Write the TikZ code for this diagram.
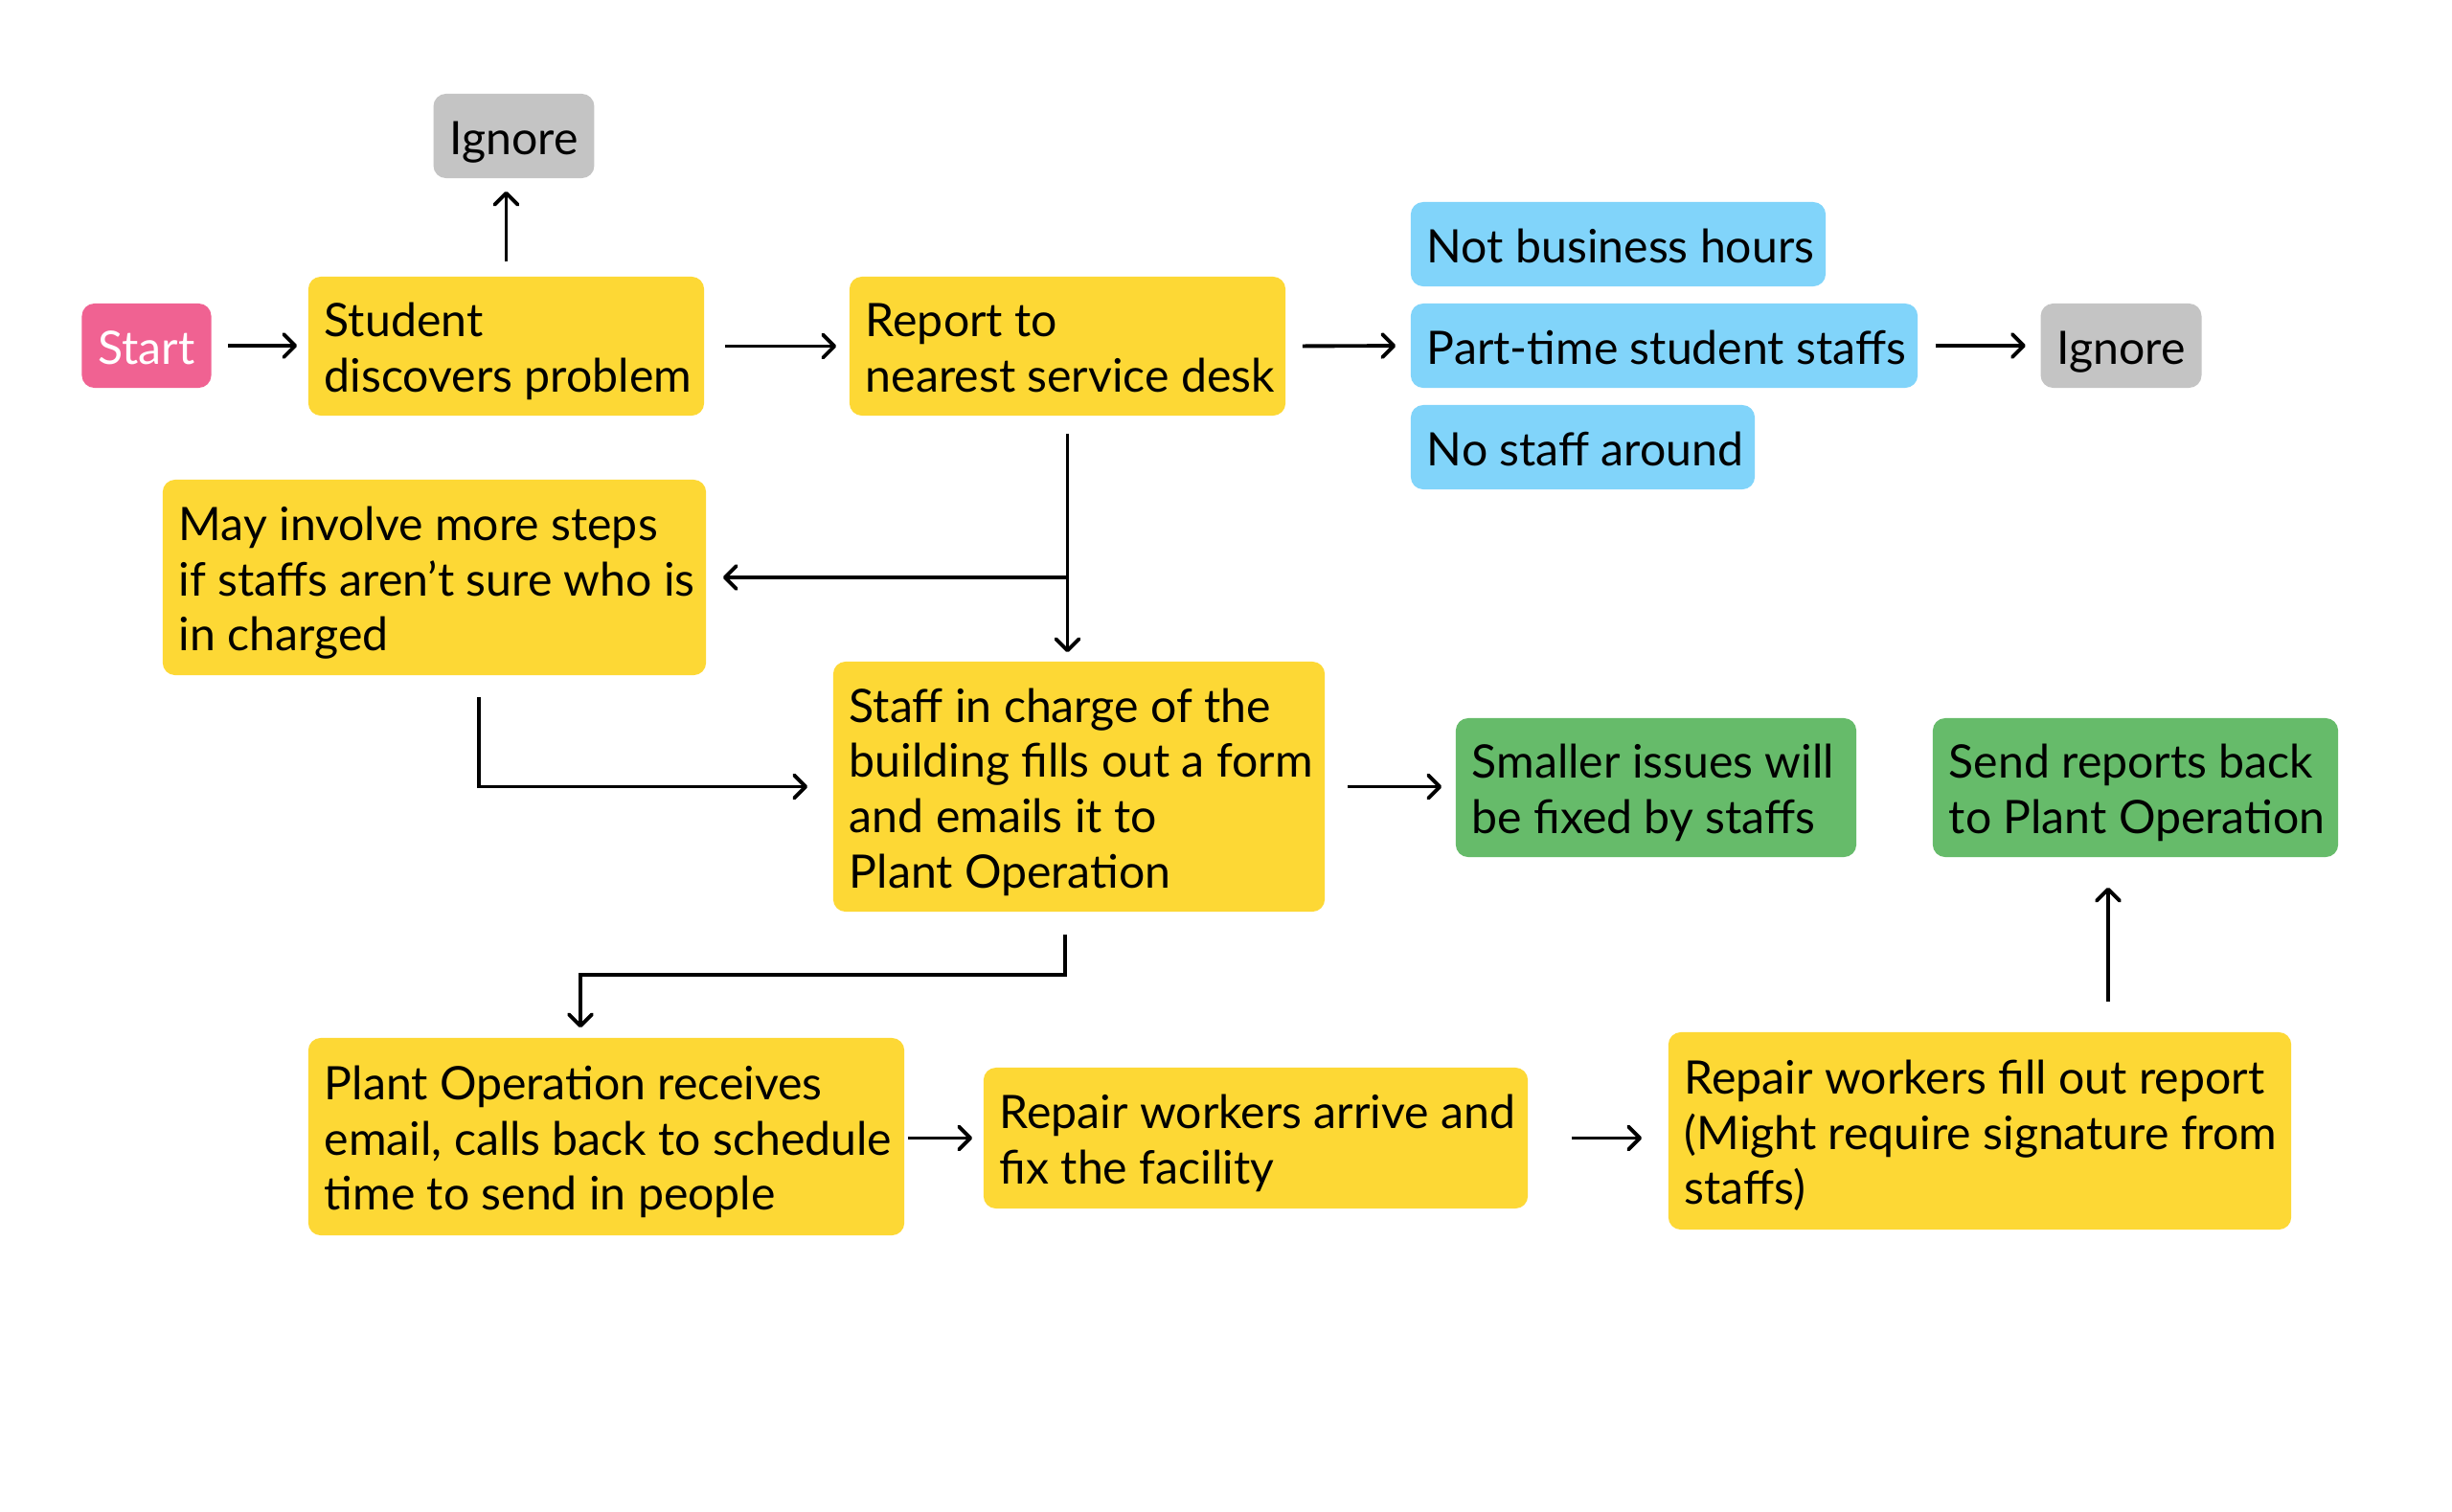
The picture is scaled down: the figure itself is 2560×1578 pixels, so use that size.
\documentclass[tikz,border=0pt]{standalone}
\usepackage{fontspec}
\setmainfont{Lato}
\usetikzlibrary{arrows.meta}
\definecolor{cyellow}{RGB}{253,216,53}
\definecolor{cpink}{RGB}{240,98,146}
\definecolor{cblue}{RGB}{129,212,250}
\definecolor{cgreen}{RGB}{102,187,106}
\definecolor{cgray}{RGB}{196,196,196}
\newcommand{\lowerit}[1]{\raisebox{-2.2pt}[\height][\depth]{#1}}
\newcommand{\boxlines}[2]{\lowerit{\makebox[#1][l]{\begin{tabular}{@{}l@{}}#2\end{tabular}}}}
\newcommand{\centerlines}[1]{\lowerit{\begin{tabular}{@{}c@{}}#1\end{tabular}}}
\begin{document}
\begin{tikzpicture}[x=0.01cm,y=-0.01cm,
  box/.style={rounded corners=0.13cm, inner ysep=0pt, inner xsep=0.17cm,
    font=\fontsize{13.7}{16.4}\selectfont, text=black},
  ybox/.style={box, fill=cyellow},
  bbox/.style={box, fill=cblue},
  gbox/.style={box, fill=cgreen},
  graybox/.style={box, fill=cgray},
  arr/.style={-{Straight Barb[length=0.12cm,width=0.24cm,line width=1.1pt,round]}, line width=1.1pt}]
\useasboundingbox[fill=white] (0,0) rectangle (2560,1578);

% nodes (center positions in px)
\node[box, fill=cpink, text=white, minimum width=1.32cm, minimum height=0.88cm] (start) at (153,361) {\centerlines{Start}};
\node[graybox, minimum width=1.65cm, minimum height=0.88cm] (ign1) at (536.5,142) {\centerlines{Ignore}};
\node[ybox, minimum height=1.45cm] (student) at (528.5,361.5) {\boxlines{3.79cm}{Student\\discovers problem}};
\node[ybox, minimum height=1.45cm] (report) at (1114.5,361.5) {\boxlines{4.21cm}{Report to\\nearest service desk}};
\node[bbox, minimum height=0.88cm] (nbh) at (1689.5,255) {\boxlines{3.99cm}{Not business hours}};
\node[bbox, minimum height=0.88cm] (pts) at (1737.5,361) {\boxlines{4.95cm}{Part-time student staffs}};
\node[bbox, minimum height=0.88cm] (nsa) at (1652.5,467) {\boxlines{3.25cm}{No staff around}};
\node[graybox, minimum width=1.63cm, minimum height=0.88cm] (ign2) at (2214.5,361) {\centerlines{Ignore}};
\node[ybox, minimum height=2.04cm] (may) at (453.5,603) {\boxlines{5.33cm}{May involve more steps\\if staffs aren’t sure who is\\in charged}};
\node[ybox, minimum height=2.61cm] (staff) at (1126.5,821.5) {\boxlines{4.79cm}{Staff in charge of the\\building fills out a form\\and emails it to\\Plant Operation}};
\node[gbox, minimum height=1.45cm] (small) at (1729,822.5) {\boxlines{3.84cm}{Smaller issues will\\be fixed by staffs}};
\node[gbox, minimum height=1.45cm] (send) at (2229.5,822.5) {\boxlines{3.89cm}{Send reports back\\to Plant Operation}};
\node[ybox, minimum height=2.06cm] (plant) at (633,1187) {\boxlines{5.88cm}{Plant Operation receives\\email, calls back to schedule\\time to send in people}};
\node[ybox, minimum height=1.47cm] (arrive) at (1311,1188.5) {\boxlines{5.34cm}{Repair workers arrive and\\fix the facility}};
\node[ybox, minimum height=2.06cm] (fill) at (2067,1181) {\boxlines{6.16cm}{Repair workers fill out report\\(Might require signature from\\staffs)}};

% connectors
\draw[arr, shorten <=0.17cm, shorten >=0.11cm] (start.east) -- (student.west |- start.east);
\draw[arr, shorten <=0.15cm, shorten >=0.13cm] (student.north) -- (student.north |- ign1.south);
\draw[arr, shorten <=0.21cm, shorten >=0.13cm] (student.east) -- (report.west);
\draw[arr, shorten <=0.17cm, shorten >=0.15cm] (report.east) -- (pts.west);
\draw[arr, shorten <=0.18cm, shorten >=0.15cm] (pts.east) -- (ign2.west);

\draw[arr, shorten <=0.18cm, shorten >=0.09cm] (report.south) -- (report.south |- staff.north);
\coordinate (j1) at (report.south |- may.east);
\draw[arr, shorten >=0.17cm] (j1) -- (may.east);

\coordinate (m1) at ([xshift=0.465cm, yshift=-0.22cm]may.south);
\draw[arr, shorten >=0.26cm] (m1) |- (staff.west);

\draw[arr, shorten <=0.23cm, shorten >=0.14cm] (staff.east) -- (staff.east -| small.west);

\coordinate (s1) at ([xshift=-0.145cm, yshift=-0.23cm]staff.south);
\coordinate (s2) at ([yshift=-0.42cm]s1);
\coordinate (p1) at ([xshift=-0.27cm]plant.north);
\draw[arr, shorten >=0.1cm] (s1) -- (s2) -| (p1);

\draw[arr, shorten <=0.03cm, shorten >=0.11cm] (plant.east |- arrive.west) -- (arrive.west);
\draw[arr, shorten <=0.45cm, shorten >=0.27cm] (arrive.east) -- (arrive.east -| fill.west);

\coordinate (f1) at ([xshift=-0.285cm]send.south);
\draw[arr, shorten <=0.31cm, shorten >=0.31cm] (f1 |- fill.north) -- (f1);
\end{tikzpicture}
\end{document}
